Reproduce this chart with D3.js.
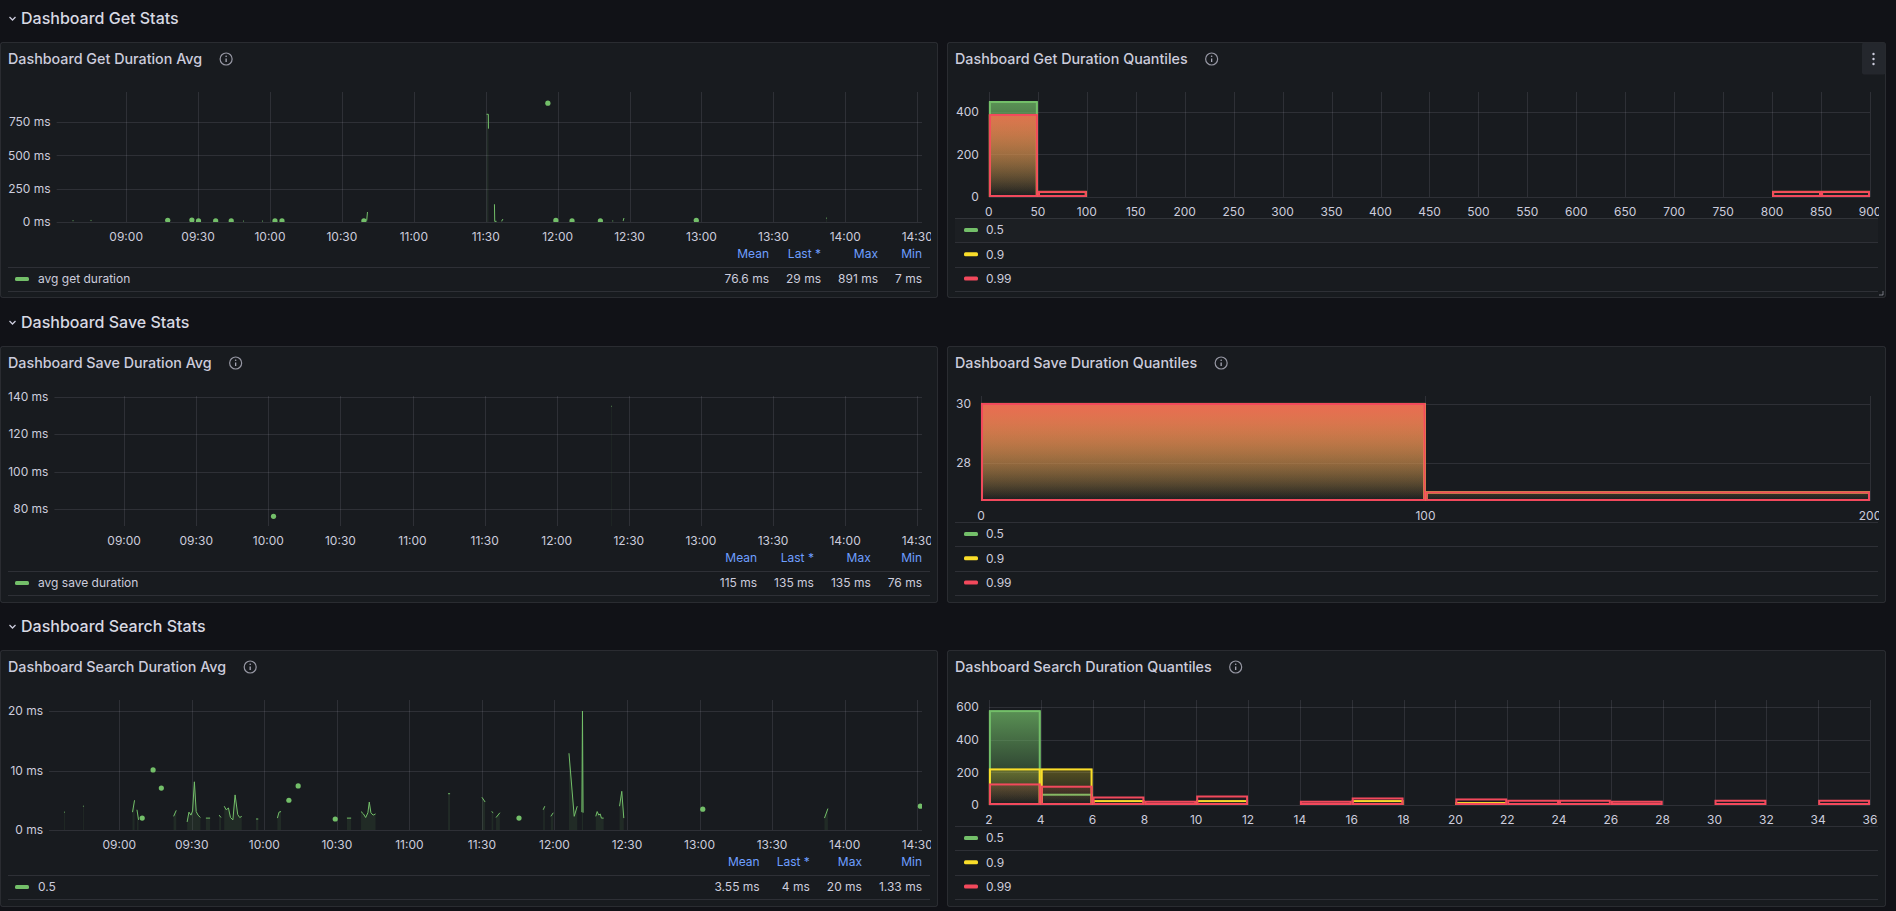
<!DOCTYPE html>
<html><head><meta charset="utf-8">
<script src="https://cdn.jsdelivr.net/npm/d3@7"></script>
<style>
html,body{margin:0;padding:0;background:#111217;overflow:hidden}
svg{display:block;font-family:Inter,"Noto Sans",sans-serif}
</style></head><body>
<svg id="c" width="1896" height="911"></svg>
<script>
// ---------------- DATA ----------------
const rowTitles = ["Dashboard Get Stats", "Dashboard Save Stats", "Dashboard Search Stats"];
const avgTitles = ["Dashboard Get Duration Avg", "Dashboard Save Duration Avg", "Dashboard Search Duration Avg"];
const quantTitles = ["Dashboard Get Duration Quantiles", "Dashboard Save Duration Quantiles", "Dashboard Search Duration Quantiles"];
const timeDomain = ["08:31:00", "14:32:00"];
const timeTicks = ["09:00","09:30","10:00","10:30","11:00","11:30","12:00","12:30","13:00","13:30","14:00","14:30"];
const legendColumns = ["Mean", "Last *", "Max", "Min"];
const quantileNames = ["0.5", "0.9", "0.99"];

// Get avg (ms)
const getAvgName = "avg get duration";
const getAvgStats = ["76.6 ms", "29 ms", "891 ms", "7 ms"];
const getAvgYTicks = [0, 250, 500, 750];
const getAvgYDomain = [0, 975];
const getAvgSeries = [
  ["08:37:40",10],["08:38:00",10],null,
  ["08:45:10",12],["08:45:30",12],null,
  ["09:17:20",13],null,
  ["09:27:25",15],null,
  ["09:30:10",8],null,
  ["09:37:20",8],null,
  ["09:43:50",8],null,
  ["09:48:50",7],["09:49:10",7],null,
  ["09:56:40",7],["09:57:00",7],null,
  ["10:02:05",8],null,
  ["10:05:00",8],null,
  ["10:39:10",9],null,
  ["10:40:20",10],["10:40:40",75],null,
  ["11:30:20",808],["11:31:05",808],["11:31:08",700],null,
  ["11:33:38",133],["11:33:45",5],["11:34:30",5],null,
  ["11:36:35",5],["11:37:10",22],null,
  ["11:55:55",891],null,
  ["11:59:15",12],null,
  ["12:06:00",8],null,
  ["12:17:50",8],null,
  ["12:22:50",8],["12:23:10",8],null,
  ["12:27:20",8],["12:27:40",30],null,
  ["12:57:50",13],null,
  ["12:58:30",8],["12:58:50",8],null,
  ["13:52:00",29],["13:52:20",29]
];

// Save avg (ms)
const saveAvgName = "avg save duration";
const saveAvgStats = ["115 ms", "135 ms", "135 ms", "76 ms"];
const saveAvgYTicks = [80, 100, 120, 140];
const saveAvgYDomain = [70.8, 140.5];
const saveAvgSeries = [
  ["10:02:10",76],null,
  ["12:22:40",135],["12:22:55",135]
];

// Search avg (ms)
const searchAvgName = "0.5";
const searchAvgStats = ["3.55 ms", "4 ms", "20 ms", "1.33 ms"];
const searchAvgYTicks = [0, 10, 20];
const searchAvgYDomain = [0, 21.85];
const searchAvgSeries = [
  ["08:37:10",3.0],["08:37:30",3.0],null,
  ["08:45:00",4.0],["08:45:20",4.0],null,
  ["09:05:30",3.0],["09:06:20",5.0],null,
  ["09:07:20",3.4],["09:08:00",1.7],null,
  ["09:09:30",2.0],null,
  ["09:14:00",10.1],null,
  ["09:17:25",7.05],null,
  ["09:22:30",2.3],["09:23:35",3.3],null,
  ["09:28:05",1.35],["09:28:50",3.0],["09:29:40",2.5],["09:30:20",3.2],["09:31:05",8.1],["09:31:50",3.1],["09:32:35",2.5],["09:33:35",2.1],null,
  ["09:35:50",2.0],["09:37:35",2.0],null,
  ["09:41:20",2.5],["09:42:05",2.1],null,
  ["09:43:25",4.0],["09:44:15",3.4],["09:45:10",3.7],["09:46:00",2.1],["09:47:00",1.7],["09:47:55",5.9],["09:49:00",2.6],["09:49:50",2.1],["09:50:40",2.3],null,
  ["09:56:35",1.85],["09:57:30",1.85],null,
  ["10:05:25",2.0],["10:06:05",3.0],["10:06:55",3.1],null,
  ["10:10:10",5.0],null,
  ["10:14:00",7.4],null,
  ["10:29:20",1.85],null,
  ["10:34:10",2.0],["10:35:55",2.0],null,
  ["10:40:00",3.1],["10:41:00",2.7],["10:41:55",2.1],["10:42:50",2.9],["10:43:25",4.7],["10:44:05",2.9],["10:45:00",2.5],["10:46:00",2.7],null,
  ["11:16:00",6.1],["11:16:50",6.1],null,
  ["11:30:00",5.5],["11:31:20",4.7],null,
  ["11:34:00",3.1],["11:34:40",2.9],null,
  ["11:35:50",2.1],["11:37:25",2.9],null,
  ["11:45:20",2.0],null,
  ["11:55:20",3.4],["11:56:00",4.0],null,
  ["11:58:30",2.3],["11:59:30",2.9],null,
  ["12:06:00",12.9],["12:08:10",2.3],["12:09:25",4.0],null,
  ["12:11:20",3.0],["12:11:35",20.0],["12:11:50",2.9],null,
  ["12:17:05",2.3],["12:17:40",3.1],["12:18:20",2.5],["12:18:55",2.7],["12:19:25",2.0],["12:20:20",2.0],null,
  ["12:26:55",4.0],["12:27:50",6.5],["12:28:40",2.0],null,
  ["13:01:20",3.5],null,
  ["13:51:40",2.0],["13:53:05",3.6],null,
  ["14:31:20",4.0]
];

// Get quantiles histogram (bucket edges = x ticks)
const getQuantXTicks = [0,50,100,150,200,250,300,350,400,450,500,550,600,650,700,750,800,850,900];
const getQuantYTicks = [0, 200, 400];
const getQuantYDomain = [0, 494];
const getQ50 = [447,0,0,0,0,0,0,0,0,0,0,0,0,0,0,0,0,0];
const getQ90 = [386,24,0,0,0,0,0,0,0,0,0,0,0,0,0,0,24,24];
const getQ99 = [386,24,0,0,0,0,0,0,0,0,0,0,0,0,0,0,24,24];

// Save quantiles histogram
const saveQuantXTicks = [0, 100, 200];
const saveQuantYTicks = [28, 30];
const saveQuantYDomain = [26.71, 30.27];
const saveQ50 = [30, 27];
const saveQ90 = [30, 27];
const saveQ99 = [30, 27];

// Search quantiles histogram
const searchQuantXTicks = [2,4,6,8,10,12,14,16,18,20,22,24,26,28,30,32,34,36];
const searchQuantYTicks = [0, 200, 400, 600];
const searchQuantYDomain = [0, 643];
const searchQ50 = [575,63,0,0,0,0,0,0,0,0,0,0,0,0,0,0,0];
const searchQ90 = [218,218,24,0,24,0,0,24,0,12,0,0,0,0,0,0,0];
const searchQ99 = [126,112,46,20,52,0,20,40,0,34,26,26,20,0,26,0,26];

// ---------------- RENDER ----------------
const C = {green:"#73bf69", yellow:"#fade2a", red:"#f2495c", text:"#ccccdc", blue:"#6e9fff",
  panel:"#181b1f", border:"rgba(204,204,220,0.12)", grid:"rgba(204,204,220,0.12)"};
const qColors = [C.green, C.yellow, C.red];
const TITLE_SIZE = 14.3;
const svg = d3.select("#c");
const defs = svg.append("defs");
const parseT = s => { const p = s.split(":").map(Number); return new Date(2024,0,1,p[0],p[1],p[2]||0); };
const fmt = d3.timeFormat("%H:%M");

function measure(text, size, weight) {
  const t = svg.append("text").attr("font-size", size).attr("font-weight", weight || 400).text(text);
  const w = t.node().getComputedTextLength(); t.remove(); return w;
}

function rowHeader(y, title) {
  const g = svg.append("g");
  g.append("path").attr("d", `M9.5,${y-1} L12.5,${y+2} L15.5,${y-1}`).attr("fill","none")
    .attr("stroke", C.text).attr("stroke-width", 1.3);
  g.append("text").attr("x", 21).attr("y", y).attr("dy","0.35em").attr("font-size", 16)
    .attr("font-weight", 500).attr("fill", "#d8d9e3").text(title);
}

function panelFrame(x, y, w, h, title, id) {
  const g = svg.append("g");
  g.append("rect").attr("x", x+0.5).attr("y", y+0.5).attr("width", w-1).attr("height", h-1)
    .attr("rx", 2).attr("fill", C.panel).attr("stroke", C.border);
  g.append("text").attr("x", x+8).attr("y", y+17).attr("dy","0.35em").attr("font-size", TITLE_SIZE)
    .attr("font-weight", 500).attr("fill", C.text).text(title);
  const tw = measure(title, TITLE_SIZE, 500);
  const cx = x + 8 + tw + 24, cy = y + 17;
  g.append("circle").attr("cx", cx).attr("cy", cy).attr("r", 6).attr("fill","none")
    .attr("stroke","rgba(204,204,220,0.7)").attr("stroke-width", 1.2);
  g.append("line").attr("x1", cx).attr("x2", cx).attr("y1", cy-0.5).attr("y2", cy+3)
    .attr("stroke","rgba(204,204,220,0.8)").attr("stroke-width", 1.3);
  g.append("circle").attr("cx", cx).attr("cy", cy-2.8).attr("r", 0.8).attr("fill","rgba(204,204,220,0.8)");
  defs.append("clipPath").attr("id", "clip" + id).append("rect")
    .attr("x", x).attr("y", y).attr("width", w-7).attr("height", h);
  return g;
}

function hline(g, x1, x2, y) {
  g.append("line").attr("x1", x1).attr("x2", x2).attr("y1", y+0.5).attr("y2", y+0.5).attr("stroke", C.border);
}

function tsPanel(cfg) {
  const {x, y, w, h, title, id, series, yDomain, yTicks, name, stats} = cfg;
  const g = panelFrame(x, y, w, h, title, id);
  const labels = yTicks.map(v => v + " ms");
  const lw = d3.max(labels, l => measure(l, 12));
  const left = x + 8 + lw + 6, right = x + w - 16, top = y + 50, bottom = y + 180;
  const xs = d3.scaleTime().domain(timeDomain.map(parseT)).range([left, right]);
  const ys = d3.scaleLinear().domain(yDomain).range([bottom, top]);
  const ticks = timeTicks.map(t => parseT(t + ":00"));
  g.selectAll(null).data(ticks).enter().append("line")
    .attr("x1", d => Math.round(xs(d))+0.5).attr("x2", d => Math.round(xs(d))+0.5)
    .attr("y1", top).attr("y2", bottom).attr("stroke", C.grid);
  g.selectAll(null).data(yTicks).enter().append("line")
    .attr("x1", left).attr("x2", right).attr("y1", d => Math.round(ys(d))+0.5).attr("y2", d => Math.round(ys(d))+0.5)
    .attr("stroke", C.grid);
  g.selectAll(null).data(yTicks).enter().append("text")
    .attr("x", left - 6).attr("y", d => ys(d)).attr("dy","0.35em").attr("text-anchor","end")
    .attr("font-size", 12).attr("fill", C.text).text(d => d + " ms");
  g.append("g").attr("clip-path", `url(#clip${id})`).selectAll(null).data(ticks).enter().append("text")
    .attr("x", d => xs(d)).attr("y", y + 195).attr("dy","0.35em").attr("text-anchor","middle")
    .attr("font-size", 12).attr("fill", C.text).text(d => fmt(d));
  // series
  const data = series.map(d => d ? {t: parseT(d[0]), v: d[1]} : null);
  defs.append("clipPath").attr("id", "plot" + id).append("rect")
    .attr("x", left).attr("y", top - 4).attr("width", right - left).attr("height", bottom - top + 4);
  const pg = g.append("g").attr("clip-path", `url(#plot${id})`);
  const area = d3.area().defined(d => d).x(d => xs(d.t)).y0(bottom).y1(d => ys(d.v));
  const line = d3.line().defined(d => d).x(d => xs(d.t)).y(d => ys(d.v));
  pg.append("path").attr("d", area(data)).attr("fill", C.green).attr("fill-opacity", 0.1);
  pg.append("path").attr("d", line(data)).attr("fill","none").attr("stroke", C.green).attr("stroke-width", 1);
  const iso = data.filter((d, i) => d && !data[i-1] && !data[i+1]);
  pg.selectAll(null).data(iso).enter().append("circle")
    .attr("cx", d => xs(d.t)).attr("cy", d => ys(d.v)).attr("r", 2.6).attr("fill", C.green);
  // legend
  hline(g, x+8, x+w-8, y+225);
  hline(g, x+8, x+w-8, y+249);
  const ry = y + 237;
  g.append("rect").attr("x", x+15).attr("y", ry-2).attr("width", 14).attr("height", 4).attr("rx", 1.5).attr("fill", C.green);
  g.append("text").attr("x", x+38).attr("y", ry).attr("dy","0.35em").attr("font-size", 12).attr("fill", C.text).text(name);
  const widths = legendColumns.map((c, i) => Math.max(measure(c, 12), measure(stats[i], 12)));
  const rights = [];
  for (let i = legendColumns.length - 1; i >= 0; i--) {
    rights[i] = (i === legendColumns.length - 1) ? x + w - 16 : rights[i+1] - widths[i+1] - 17;
  }
  g.selectAll(null).data(legendColumns).enter().append("text")
    .attr("x", (d, i) => rights[i]).attr("y", y + 212).attr("dy","0.35em").attr("text-anchor","end")
    .attr("font-size", 12).attr("fill", C.blue).text(d => d);
  g.selectAll(null).data(stats).enter().append("text")
    .attr("x", (d, i) => rights[i]).attr("y", ry).attr("dy","0.35em").attr("text-anchor","end")
    .attr("font-size", 12).attr("fill", C.text).text(d => d);
  return g;
}

function histPanel(cfg) {
  const {x, y, w, h, title, id, xTicks, yTicks, yDomain, values, highlight} = cfg;
  const g = panelFrame(x, y, w, h, title, id);
  const lw = d3.max(yTicks, v => measure(String(v), 12));
  const left = x + 9 + lw + 10, right = x + w - 16, top = y + 50, bottom = y + 155;
  const xs = d3.scaleLinear().domain([xTicks[0], xTicks[xTicks.length-1]]).range([left, right]);
  const ys = d3.scaleLinear().domain(yDomain).range([bottom, top]);
  g.selectAll(null).data(xTicks).enter().append("line")
    .attr("x1", d => Math.round(xs(d))+0.5).attr("x2", d => Math.round(xs(d))+0.5)
    .attr("y1", top).attr("y2", bottom).attr("stroke", C.grid);
  g.selectAll(null).data(yTicks).enter().append("line")
    .attr("x1", left).attr("x2", right).attr("y1", d => Math.round(ys(d))+0.5).attr("y2", d => Math.round(ys(d))+0.5)
    .attr("stroke", C.grid);
  g.selectAll(null).data(yTicks).enter().append("text")
    .attr("x", left - 10).attr("y", d => ys(d)).attr("dy","0.35em").attr("text-anchor","end")
    .attr("font-size", 12).attr("fill", C.text).text(d => d);
  g.append("g").attr("clip-path", `url(#clip${id})`).selectAll(null).data(xTicks).enter().append("text")
    .attr("x", d => xs(d)).attr("y", y + 170).attr("dy","0.35em").attr("text-anchor","middle")
    .attr("font-size", 12).attr("fill", C.text).text(d => d);
  defs.append("clipPath").attr("id", "plot" + id).append("rect")
    .attr("x", left - 2).attr("y", top).attr("width", right - left + 4).attr("height", bottom - top + 1);
  const pg = g.append("g").attr("clip-path", `url(#plot${id})`);
  values.forEach((vals, si) => {
    const gid = `grad${id}_${si}`;
    const lg = defs.append("linearGradient").attr("id", gid).attr("gradientUnits","userSpaceOnUse")
      .attr("x1", 0).attr("x2", 0).attr("y1", top).attr("y2", bottom);
    lg.append("stop").attr("offset", "0%").attr("stop-color", qColors[si]).attr("stop-opacity", 0.8);
    lg.append("stop").attr("offset", "100%").attr("stop-color", qColors[si]).attr("stop-opacity", 0);
    const bars = vals.map((v, i) => ({x0: xTicks[i], x1: xTicks[i+1], v})).filter(d => d.v > 0);
    pg.selectAll(null).data(bars).enter().append("rect")
      .attr("x", d => xs(d.x0)).attr("width", d => xs(d.x1) - xs(d.x0))
      .attr("y", d => ys(d.v)).attr("height", d => bottom - ys(d.v))
      .attr("fill", `url(#${gid})`);
    pg.selectAll(null).data(bars).enter().append("rect")
      .attr("x", d => xs(d.x0) + 1).attr("width", d => xs(d.x1) - xs(d.x0) - 2)
      .attr("y", d => ys(d.v)).attr("height", d => Math.max(0, bottom - ys(d.v) - 1))
      .attr("fill", "none").attr("stroke", qColors[si]).attr("stroke-width", 2);
  });
  // legend
  if (highlight) g.append("rect").attr("x", x+8).attr("y", y+176).attr("width", w-16).attr("height", 24)
    .attr("fill", "rgba(204,204,220,0.025)");
  [176, 200, 225, 249].forEach(o => hline(g, x+8, x+w-8, y+o));
  quantileNames.forEach((n, i) => {
    const ry = y + 188 + i * 24.3;
    g.append("rect").attr("x", x+17).attr("y", ry-2).attr("width", 14).attr("height", 4).attr("rx", 1.5).attr("fill", qColors[i]);
    g.append("text").attr("x", x+39).attr("y", ry).attr("dy","0.35em").attr("font-size", 12).attr("fill", C.text).text(n);
  });
  return g;
}

const rowY = [18, 322, 626];
const panelY = [42, 346, 650];
const panelH = [256, 257, 257];
rowTitles.forEach((t, i) => rowHeader(rowY[i], t));

tsPanel({x:0, y:panelY[0], w:938, h:panelH[0], title:avgTitles[0], id:"a0", series:getAvgSeries,
  yDomain:getAvgYDomain, yTicks:getAvgYTicks, name:getAvgName, stats:getAvgStats});
tsPanel({x:0, y:panelY[1], w:938, h:panelH[1], title:avgTitles[1], id:"a1", series:saveAvgSeries,
  yDomain:saveAvgYDomain, yTicks:saveAvgYTicks, name:saveAvgName, stats:saveAvgStats});
tsPanel({x:0, y:panelY[2], w:938, h:panelH[2], title:avgTitles[2], id:"a2", series:searchAvgSeries,
  yDomain:searchAvgYDomain, yTicks:searchAvgYTicks, name:searchAvgName, stats:searchAvgStats});

const q0 = histPanel({x:947, y:panelY[0], w:939, h:panelH[0], title:quantTitles[0], id:"q0",
  xTicks:getQuantXTicks, yTicks:getQuantYTicks, yDomain:getQuantYDomain, values:[getQ50, getQ90, getQ99], highlight:true});
histPanel({x:947, y:panelY[1], w:939, h:panelH[1], title:quantTitles[1], id:"q1",
  xTicks:saveQuantXTicks, yTicks:saveQuantYTicks, yDomain:saveQuantYDomain, values:[saveQ50, saveQ90, saveQ99]});
histPanel({x:947, y:panelY[2], w:939, h:panelH[2], title:quantTitles[2], id:"q2",
  xTicks:searchQuantXTicks, yTicks:searchQuantYTicks, yDomain:searchQuantYDomain, values:[searchQ50, searchQ90, searchQ99]});

// menu button + resize handle on the hovered panel
q0.append("rect").attr("x", 1862).attr("y", 42.5).attr("width", 23.5).attr("height", 32).attr("rx", 2).attr("fill", "#24272d");
[54, 59, 64].forEach(cy => q0.append("circle").attr("cx", 1873.5).attr("cy", cy).attr("r", 1.2).attr("fill", C.text));
q0.append("path").attr("d", "M1883,291 L1883,295 L1879,295").attr("fill","none").attr("stroke","rgba(204,204,220,0.5)").attr("stroke-width", 1);
</script>
</body></html>
